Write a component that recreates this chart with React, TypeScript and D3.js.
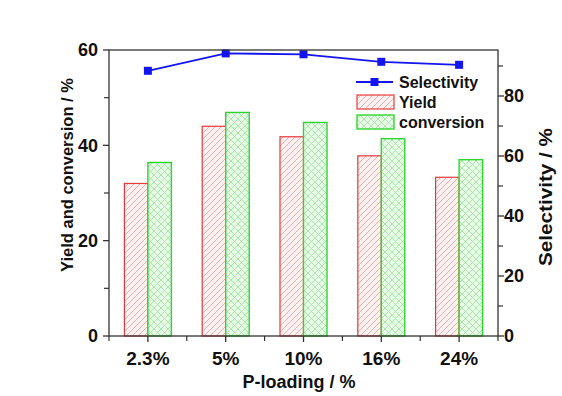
import React from "react";
import * as d3 from "d3";

const categories = ["2.3%", "5%", "10%", "16%", "24%"];
const yieldValues = [32.0, 44.0, 41.8, 37.8, 33.3];
const conversionValues = [36.4, 46.9, 44.8, 41.4, 37.0];
const selectivityValues = [88.4, 94.2, 93.9, 91.4, 90.4];
const leftTicks = [0, 20, 40, 60];
const leftMinorTicks = [10, 30, 50];
const rightTicks = [0, 20, 40, 60, 80];
const rightMinorTicks = [10, 30, 50, 70, 90];

const W = 562;
const H = 396;
const M = { left: 109, right: 498, top: 50, bottom: 336 };
const FONT = "'Liberation Sans', Arial, sans-serif";
const AXIS = "#333";

export default function App() {
  const x = d3.scaleBand<string>().domain(categories).range([M.left, M.right]);
  const yL = d3.scaleLinear().domain([0, 60]).range([M.bottom, M.top]);
  const yR = d3.scaleLinear().domain([0, (M.bottom - M.top) / 3]).range([M.bottom, M.top]);
  const barW = 23.5;
  const cx = (c: string) => (x(c) as number) + x.bandwidth() / 2;

  const line = d3
    .line<number>()
    .x((_, i) => cx(categories[i]))
    .y((d) => yR(d));

  const edges = d3.range(categories.length + 1).map((i) => M.left + i * x.bandwidth());

  return (
    <svg
      width={W}
      height={H}
      style={{ position: "absolute", left: 0, top: 0, background: "#fff" }}
      fontFamily={FONT}
    >
      <defs>
        <pattern id="hatchYield" patternUnits="userSpaceOnUse" width="6" height="6">
          <rect width="6" height="6" fill="#fdf2f2" />
          <path d="M-1,1 l2,-2 M0,6 l6,-6 M5,7 l2,-2" stroke="#ef9a9a" strokeWidth="0.8" />
        </pattern>
        <pattern id="hatchConv" patternUnits="userSpaceOnUse" width="7" height="7">
          <rect width="7" height="7" fill="#eafbea" />
          <path
            d="M-1,1 l2,-2 M0,7 l7,-7 M6,8 l2,-2 M-1,6 l2,2 M0,0 l7,7 M6,-1 l2,2"
            stroke="#96e596"
            strokeWidth="0.8"
          />
        </pattern>
      </defs>

      {/* bars */}
      {categories.map((c, i) => (
        <g key={c}>
          <rect
            x={cx(c) - barW}
            y={yL(yieldValues[i])}
            width={barW}
            height={M.bottom - yL(yieldValues[i])}
            fill="url(#hatchYield)"
            stroke="#e43a3a"
            strokeWidth={1.2}
          />
          <rect
            x={cx(c)}
            y={yL(conversionValues[i])}
            width={barW}
            height={M.bottom - yL(conversionValues[i])}
            fill="url(#hatchConv)"
            stroke="#2fd52f"
            strokeWidth={1.4}
          />
        </g>
      ))}

      {/* selectivity line */}
      <path d={line(selectivityValues) || ""} fill="none" stroke="#1414f0" strokeWidth={1.8} />
      {selectivityValues.map((v, i) => (
        <rect key={i} x={cx(categories[i]) - 4} y={yR(v) - 4} width={8} height={8} fill="#1414f0" />
      ))}

      {/* frame */}
      <rect
        x={M.left}
        y={M.top}
        width={M.right - M.left}
        height={M.bottom - M.top}
        fill="none"
        stroke={AXIS}
        strokeWidth={1.3}
      />

      {/* left axis */}
      {leftTicks.map((t) => (
        <g key={"l" + t}>
          <line x1={M.left - 6} x2={M.left} y1={yL(t)} y2={yL(t)} stroke={AXIS} strokeWidth={1.3} />
          <text x={M.left - 11} y={yL(t)} dy="0.36em" textAnchor="end" fontSize={18} fontWeight="bold" fill="#111">
            {t}
          </text>
        </g>
      ))}
      {leftMinorTicks.map((t) => (
        <line key={"lm" + t} x1={M.left - 5} x2={M.left} y1={yL(t)} y2={yL(t)} stroke={AXIS} strokeWidth={1.2} />
      ))}

      {/* right axis */}
      {rightTicks.map((t) => (
        <g key={"r" + t}>
          <line x1={M.right} x2={M.right + 6} y1={yR(t)} y2={yR(t)} stroke={AXIS} strokeWidth={1.3} />
          <text x={M.right + 6} y={yR(t)} dy="0.36em" textAnchor="start" fontSize={18} fontWeight="bold" fill="#111">
            {t}
          </text>
        </g>
      ))}
      {rightMinorTicks.map((t) => (
        <line key={"rm" + t} x1={M.right} x2={M.right + 5} y1={yR(t)} y2={yR(t)} stroke={AXIS} strokeWidth={1.2} />
      ))}

      {/* bottom axis */}
      {categories.map((c) => (
        <g key={"b" + c}>
          <line x1={cx(c)} x2={cx(c)} y1={M.bottom} y2={M.bottom + 6} stroke={AXIS} strokeWidth={1.3} />
          <text x={cx(c)} y={365} textAnchor="middle" fontSize={19} fontWeight="bold" fill="#111">
            {c}
          </text>
        </g>
      ))}
      {edges.map((e, i) => (
        <line key={"be" + i} x1={e} x2={e} y1={M.bottom} y2={M.bottom + 5} stroke={AXIS} strokeWidth={1.2} />
      ))}

      {/* axis titles */}
      <text x={299} y={388} textAnchor="middle" fontSize={18} fontWeight="bold" fill="#111">
        P-loading / %
      </text>
      <text
        transform={`translate(73,175) rotate(-90)`}
        textAnchor="middle"
        fontSize={16.5}
        fontWeight="bold"
        fill="#111"
      >
        Yield and conversion / %
      </text>
      <text
        transform={`translate(552,197) rotate(-90)`}
        textAnchor="middle"
        fontSize={19}
        fontWeight="bold"
        fill="#111"
        textLength={138}
        lengthAdjust="spacingAndGlyphs"
      >
        Selectivity / %
      </text>

      {/* legend */}
      <g fontSize={16} fontWeight="bold" fill="#111">
        <line x1={356} x2={393} y1={82} y2={82} stroke="#1414f0" strokeWidth={1.8} />
        <rect x={370.5} y={78} width={8} height={8} fill="#1414f0" />
        <text x={399} y={82} dy="0.36em">Selectivity</text>
        <rect x={357} y={95} width={37} height={14} fill="url(#hatchYield)" stroke="#e43a3a" strokeWidth={1.2} />
        <text x={399} y={102} dy="0.36em">Yield</text>
        <rect x={357} y={115} width={37} height={14} fill="url(#hatchConv)" stroke="#2fd52f" strokeWidth={1.4} />
        <text x={399} y={122} dy="0.36em">conversion</text>
      </g>
    </svg>
  );
}
